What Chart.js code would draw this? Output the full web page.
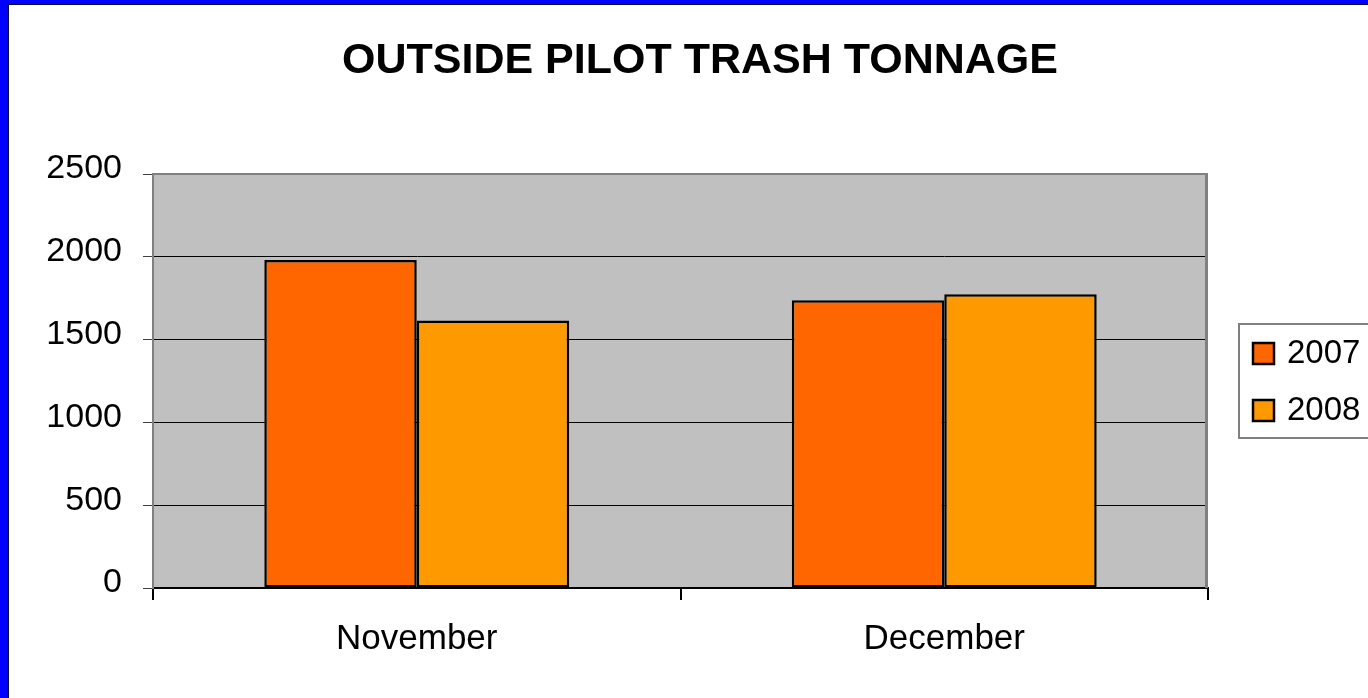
<!DOCTYPE html>
<html>
<head>
<meta charset="utf-8">
<script src="https://cdn.jsdelivr.net/npm/chart.js@4"></script>
<style>
  html, body { margin: 0; padding: 0; background: #fff; overflow: hidden; }
  canvas { display: block; }
</style>
</head>
<body>
<canvas id="chartId" width="1368" height="698"></canvas>
<script>
var months = ["November", "December"];
var years = ["2007", "2008"];
var tons2007 = [1980, 1737];
var tons2008 = [1615, 1774];
var yTicks = [0, 500, 1000, 1500, 2000, 2500];
var barColors = ["#FF6600", "#FF9900"];

var fontName = "'Liberation Sans', Arial, sans-serif";

// page frame, gray plot area and the boxed legend
var framePlugin = {
    id: "frame",
    beforeDraw: function (chart) {
        var ctx = chart.ctx;
        var a = chart.chartArea;
        ctx.save();
        ctx.fillStyle = "#ffffff";
        ctx.fillRect(0, 0, chart.width, chart.height);
        ctx.fillStyle = "#0000FF";
        ctx.fillRect(0, 0, 8, chart.height);
        ctx.fillRect(0, 0, chart.width, 4);
        ctx.fillStyle = "#000033";
        ctx.fillRect(8, 4, 1, chart.height);
        ctx.fillRect(8, 4, chart.width, 1);
        ctx.fillStyle = "#C0C0C0";
        ctx.fillRect(a.left, a.top, a.right - a.left, a.bottom - a.top);
        ctx.restore();
    },
    afterDatasetsDraw: function (chart) {
        var ctx = chart.ctx;
        var a = chart.chartArea;
        ctx.save();
        ctx.strokeStyle = "#808080";
        ctx.lineWidth = 2;
        ctx.beginPath();
        ctx.moveTo(a.left, a.top);
        ctx.lineTo(a.right, a.top);
        ctx.stroke();
        ctx.lineWidth = 3;
        ctx.beginPath();
        ctx.moveTo(a.right - 1.5, a.top);
        ctx.lineTo(a.right - 1.5, a.bottom);
        ctx.stroke();
        ctx.restore();
    },
    afterDraw: function (chart) {
        var ctx = chart.ctx;
        ctx.save();
        ctx.strokeStyle = "#808080";
        ctx.lineWidth = 2;
        ctx.strokeRect(1239, 324, 200, 114);
        ctx.font = "33px " + fontName;
        ctx.textBaseline = "middle";
        ctx.textAlign = "left";
        chart.data.datasets.forEach(function (ds, i) {
            var y = 343 + i * 57;
            ctx.fillStyle = ds.backgroundColor;
            ctx.fillRect(1253, y, 21, 21);
            ctx.strokeStyle = "#000000";
            ctx.lineWidth = 2.5;
            ctx.strokeRect(1253, y, 21, 21);
            ctx.fillStyle = "#000000";
            ctx.fillText(ds.label, 1287, y + 11);
        });
        ctx.restore();
    }
};

var chrt = document.getElementById("chartId").getContext("2d");
var chartId = new Chart(chrt, {
    type: "bar",
    data: {
        labels: months,
        datasets: [{
            label: years[0],
            data: tons2007,
            backgroundColor: barColors[0],
            borderColor: "#000000",
            borderWidth: 2.5,
            borderSkipped: false,
        }, {
            label: years[1],
            data: tons2008,
            backgroundColor: barColors[1],
            borderColor: "#000000",
            borderWidth: 2.5,
            borderSkipped: false,
        }],
    },
    options: {
        responsive: false,
        animation: false,
        categoryPercentage: 0.578,
        barPercentage: 1.0,
        layout: { padding: { left: 32, right: 0, top: 0, bottom: 0 } },
        plugins: {
            legend: { display: false },
            tooltip: { enabled: false },
            title: {
                display: true,
                text: "OUTSIDE PILOT TRASH TONNAGE",
                color: "#000000",
                font: { family: fontName, size: 43, weight: "bold" },
                padding: { top: 35, bottom: 87.4 },
            },
        },
        scales: {
            x: {
                grid: {
                    display: true,
                    drawOnChartArea: false,
                    drawTicks: true,
                    tickLength: 12,
                    color: "#000000",
                    lineWidth: 2,
                },
                border: { display: true, color: "#000000", width: 2 },
                ticks: {
                    color: "#000000",
                    font: { family: fontName, size: 35 },
                    padding: 18,
                },
                afterFit: function (s) { s.height = 110; },
            },
            y: {
                min: 0,
                max: 2500,
                afterBuildTicks: function (s) {
                    s.ticks = yTicks.map(function (v) { return { value: v }; });
                },
                grid: {
                    color: "#000000",
                    lineWidth: 1,
                    tickLength: 10,
                    tickColor: "#404040",
                },
                border: { display: true, color: "#808080", width: 2 },
                ticks: {
                    color: "#000000",
                    font: { family: fontName, size: 34 },
                    padding: 21,
                    labelOffset: -5,
                    callback: function (v) { return String(v); },
                },
                afterFit: function (s) { s.width = 121; },
            },
            spacer: {
                type: "linear",
                position: "right",
                display: true,
                grid: { display: false, drawTicks: false },
                border: { display: false },
                ticks: { display: false },
                afterFit: function (s) { s.width = 160; },
            },
        },
    },
    plugins: [framePlugin],
});
</script>
</body>
</html>
